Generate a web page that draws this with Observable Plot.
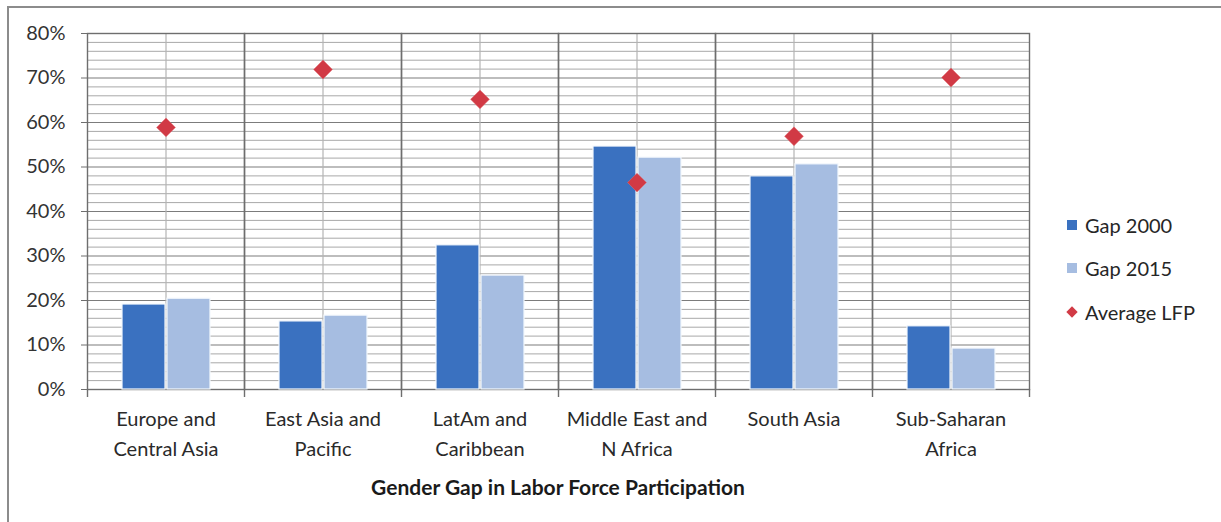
<!DOCTYPE html>
<html><head><meta charset="utf-8">
<script src="https://cdn.jsdelivr.net/npm/d3@7"></script>
<script src="https://cdn.jsdelivr.net/npm/@observablehq/plot@0.6"></script>
<style>
body{margin:0;background:#fff;font-family:Lato,"Open Sans",sans-serif;}
#wrap{position:relative;width:1221px;height:522px;overflow:hidden;background:#fff;}
#border{position:absolute;left:7px;top:6px;width:1400px;height:700px;border-left:2px solid #8c8c8c;border-top:2px solid #8c8c8c;}
#chart{position:absolute;left:0;top:0;}
#title{position:absolute;left:87px;width:942px;top:474px;text-align:center;font-weight:bold;font-size:21px;color:#1a1a1a;}
#legend{position:absolute;left:1067px;top:203px;font-size:20px;color:#262626;}
.item{height:43.5px;display:flex;align-items:center;}
.sw{width:10px;height:10px;margin-right:8px;}
.dm{width:8px;height:8px;transform:rotate(45deg);margin:0 9px 0 1px;}
</style>
</head><body>
<div id="wrap">
<div id="border"></div>
<div id="chart"></div>
<div id="title">Gender Gap in Labor Force Participation</div>
<div id="legend"></div>
</div>
<script>
const regions = ["Europe and Central Asia","East Asia and Pacific","LatAm and Caribbean","Middle East and N Africa","South Asia","Sub-Saharan Africa"];
const regionLabels = ["Europe and\nCentral Asia","East Asia and\nPacific","LatAm and\nCaribbean","Middle East and\nN Africa","South Asia","Sub-Saharan\nAfrica"];
const gap2000 = [19.1, 15.3, 32.4, 54.6, 47.9, 14.2];
const gap2015 = [20.4, 16.6, 25.6, 52.1, 50.6, 9.2];
const avgLFP  = [58.9, 71.9, 65.2, 46.5, 56.9, 70.1];
const seriesNames = ["Gap 2000","Gap 2015","Average LFP"];
const seriesColors = ["#3a71c0","#a6bde1","#d13a45"];
const yTicks = [0,10,20,30,40,50,60,70,80];
const yMinor = [2,4,6,8,12,14,16,18,22,24,26,28,32,34,36,38,42,44,46,48,52,54,56,58,62,64,66,68,72,74,76,78];

const W = 1040, H = 505, ML = 87, MR = 11, MT = 33, MB = 116;
const facetW = (W - ML - MR) / regions.length;
const plotH = H - MT - MB;

const bars = [];
regions.forEach((r, i) => {
  bars.push({region: r, series: seriesNames[0], value: gap2000[i]});
  bars.push({region: r, series: seriesNames[1], value: gap2015[i]});
});
const lfp = regions.map((r, i) => ({region: r, value: avgLFP[i]}));

const chart = Plot.plot({
  width: W, height: H,
  marginLeft: ML, marginRight: MR, marginTop: MT, marginBottom: MB,
  style: {fontFamily: "Lato, 'Open Sans', sans-serif", fontSize: "20px", color: "#333", background: "transparent"},
  fx: {domain: regions, padding: 0, axis: null, label: null},
  x: {domain: seriesNames.slice(0, 2), paddingInner: 0.05, paddingOuter: 0.765, axis: null},
  y: {domain: [0, 80], axis: null},
  color: {domain: seriesNames.slice(0, 2), range: seriesColors.slice(0, 2)},
  marks: [
    Plot.ruleY(yMinor, {stroke: "#a8a8a8", strokeWidth: 1}),
    Plot.ruleY(yTicks, {stroke: "#7c7c7c", strokeWidth: 1.2}),
    Plot.ruleX(regions, {fx: d => d, x: null, stroke: "#b4b4b4", strokeWidth: 1.2}),
    Plot.frame({stroke: "#6e6e6e", strokeWidth: 1.4}),
    Plot.barY(bars, {fx: "region", x: "series", y: "value", fill: "series", stroke: "#f4f8fd", strokeWidth: 1.2}),
    Plot.ruleX(regions, {fx: d => d, x: null, dx: -facetW / 2, insetTop: plotH, insetBottom: -8, stroke: "#6e6e6e", strokeWidth: 1.4}),
    Plot.ruleX(regions.slice(-1), {fx: d => d, x: null, dx: facetW / 2, insetTop: plotH, insetBottom: -8, stroke: "#6e6e6e", strokeWidth: 1.4}),
    Plot.dot(lfp, {fx: "region", y: "value", symbol: "diamond2", r: 8.5, fill: seriesColors[2], stroke: "#e06a70", strokeWidth: 0.5}),
    Plot.axisY({ticks: yTicks, tickFormat: d => d + "%", tickSize: 6, tickPadding: 16, stroke: "#6e6e6e", fill: "#333", fontSize: 20, label: null}),
    Plot.text(regions, {fx: d => d, text: (d, i) => regionLabels[i], frameAnchor: "bottom", lineAnchor: "top", dy: 15, lineHeight: 1.5, fontSize: 20, fill: "#2a2a2a"})
  ]
});
document.getElementById("chart").appendChild(chart);

const legend = document.getElementById("legend");
seriesNames.forEach((s, i) => {
  const it = document.createElement("div");
  it.className = "item";
  const sw = document.createElement("div");
  sw.className = i === 2 ? "dm" : "sw";
  sw.style.background = seriesColors[i];
  it.appendChild(sw);
  const t = document.createElement("span");
  t.textContent = s;
  it.appendChild(t);
  legend.appendChild(it);
});
</script>
</body></html>
